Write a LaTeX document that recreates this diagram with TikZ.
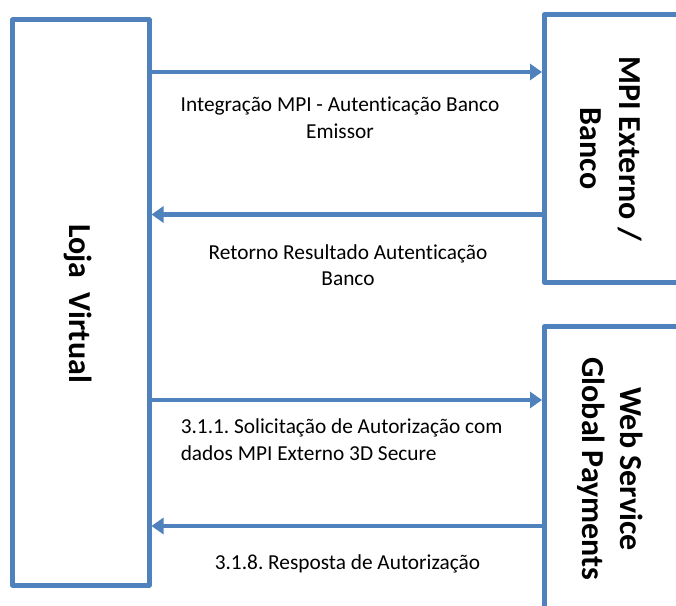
\documentclass[tikz,border=0pt]{standalone}
\usepackage{fontspec}
\setmainfont{Carlito}[Ligatures=NoCommon]
\usetikzlibrary{arrows.meta}
\definecolor{boxblue}{HTML}{4F81BD}
\frenchspacing
\begin{document}
\begin{tikzpicture}[x=0.75pt, y=-0.75pt,
  box/.style={draw=boxblue, line width=3.75pt, line join=round, inner sep=0pt},
  flow/.style={draw=boxblue, line width=3.5pt, -{Triangle[length=9pt,width=12pt]}},
  lbl/.style={font=\fontsize{16}{20}\selectfont, align=center, inner sep=0pt},
  ttl/.style={font=\fontsize{24}{29}\selectfont\bfseries, align=center, rotate=-90, inner sep=0pt}]
\useasboundingbox (0,0) rectangle (676,606);
% boxes
\node[box, minimum width=102.375pt, minimum height=423.75pt] (loja) at (80.75,302.5) {};
\node[box, minimum width=101.625pt, minimum height=201pt] (mpi) at (612.25,148.5) {};
\node[box, minimum width=101.625pt, minimum height=213.75pt] (ws) at (612.25,469) {};
% titles
\node[ttl, anchor=base] (lojat) at (69.5,303.5) {Loja~~Virtual};
\node[ttl] (mpit) at (611.3,148.5) {MPI Externo /\\Banco};
\node[ttl] (wst) at (610.3,469) {Web Service\\Global Payments};
% connector levels
\coordinate (r1) at (0,72);
\coordinate (r2) at (0,214.5);
\coordinate (r3) at (0,400);
\coordinate (r4) at (0,526);
\draw[flow] (loja.east |- r1) -- (mpi.west |- r1);
\draw[flow] (mpi.west |- r2) -- (loja.east |- r2);
\draw[flow] (loja.east |- r3) -- (ws.west |- r3);
\draw[flow] (ws.west |- r4) -- (loja.east |- r4);
% labels
\node[lbl] (l1) at (340,118) {Integração MPI - Autenticação Banco\\Emissor};
\node[lbl] (l2) at (348,265.2) {Retorno Resultado Autenticação\\Banco};
\node[lbl, align=left, anchor=west] (l3) at (180.5,439.5) {3.1.1. Solicitação de Autorização com\\dados MPI Externo 3D Secure};
\node[lbl, anchor=base] (l4) at (347.5,570) {3.1.8. Resposta de Autorização};
\end{tikzpicture}
\end{document}
